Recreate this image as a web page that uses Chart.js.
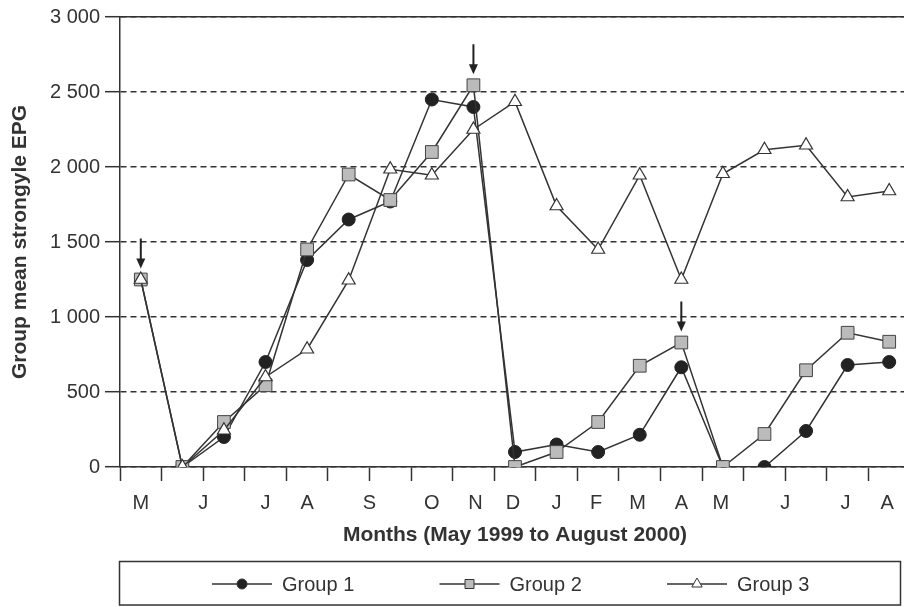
<!DOCTYPE html>
<html>
<head>
<meta charset="utf-8">
<title>Group mean strongyle EPG</title>
<script src="https://cdn.jsdelivr.net/npm/chart.js@4.4.0/dist/chart.umd.min.js"></script>
<style>
html, body { margin: 0; padding: 0; background: #fff; overflow: hidden; }
#wrap { width: 920px; height: 607px; }
</style>
</head>
<body>
<div id="wrap"><canvas id="epgChart" width="920" height="607"></canvas></div>
<script>
// 19 sampling occasions, May 1999 to August 2000
const monthLabels = ['M', 'J', 'J', 'A', 'S', 'O', 'N', 'D', 'J', 'F', 'M', 'A', 'M', 'J', 'J', 'A'];
const monthLabelPos = [0.5, 2, 3.5, 4.5, 6, 7.5, 8.55, 9.45, 10.5, 11.45, 12.45, 13.5, 14.45, 16, 17.45, 18.45];
const group1 = [null, 0, 200, 700, 1380, 1650, 1770, 2450, 2400, 100, 150, 100, 215, 665, 0, 0, 240, 680, 700];
const group2 = [1250, 0, 300, 545, 1450, 1950, 1780, 2100, 2545, 0, 100, 300, 675, 830, 0, 220, 645, 895, 835];
const group3 = [1250, 0, 245, 600, 785, 1245, 1985, 1945, 2250, 2435, 1740, 1450, 1945, 1250, 1955, 2115, 2145, 1800, 1840];
const treatmentAt = [0, 8, 13]; // arrows above group 2
const yTicks = [0, 500, 1000, 1500, 2000, 2500, 3000];

const ink = '#333';
const textCol = '#333';
Chart.defaults.font.family = "'Liberation Sans', Arial, Helvetica, sans-serif";
Chart.defaults.color = textCol;

const toPoints = arr => arr.map((v, i) => ({ x: i + 0.5, y: v }));

function fmtThousands(v) {
    if (v < 1000) return String(v);
    return Math.floor(v / 1000) + ' ' + String(v % 1000).padStart(3, '0');
}

function drawMarker(ctx, style, x, y, r, fill) {
    ctx.beginPath();
    if (style === 'circle') {
        ctx.arc(x, y, r, 0, Math.PI * 2);
    } else if (style === 'rect') {
        ctx.rect(x - r, y - r, 2 * r, 2 * r);
    } else {
        ctx.moveTo(x, y - r);
        ctx.lineTo(x + r * 0.866, y + r * 0.5);
        ctx.lineTo(x - r * 0.866, y + r * 0.5);
        ctx.closePath();
    }
    ctx.fillStyle = fill;
    ctx.fill();
    ctx.stroke();
}

const overlayPlugin = {
    id: 'overlay',
    afterDatasetsDraw(chart) {
        const ctx = chart.ctx;
        const xs = chart.scales.x, ys = chart.scales.y;
        ctx.save();
        ctx.strokeStyle = '#222';
        ctx.fillStyle = '#222';
        ctx.lineWidth = 2;
        treatmentAt.forEach(i => {
            const px = xs.getPixelForValue(i + 0.5);
            const tip = ys.getPixelForValue(group2[i]) - 11;
            ctx.beginPath();
            ctx.moveTo(px, tip - 30);
            ctx.lineTo(px, tip - 8);
            ctx.stroke();
            ctx.beginPath();
            ctx.moveTo(px - 4.5, tip - 10);
            ctx.lineTo(px + 4.5, tip - 10);
            ctx.lineTo(px, tip);
            ctx.closePath();
            ctx.fill();
        });
        ctx.restore();
    },
    afterDraw(chart) {
        const ctx = chart.ctx;
        ctx.save();
        ctx.strokeStyle = ink;
        ctx.lineWidth = 1.5;
        ctx.strokeRect(119.5, 561.5, 781, 43.5);
        const ly = 584;
        const markers = [
            { style: 'circle', r: 5, fill: '#222' },
            { style: 'rect', r: 4.5, fill: '#bbb' },
            { style: 'triangle', r: 6, fill: '#fff' }
        ];
        chart.data.datasets.forEach((ds, k) => {
            const x0 = 212 + k * 227.5;
            ctx.strokeStyle = ink;
            ctx.lineWidth = 1.5;
            ctx.beginPath();
            ctx.moveTo(x0, ly);
            ctx.lineTo(x0 + 60, ly);
            ctx.stroke();
            ctx.lineWidth = 1;
            drawMarker(ctx, markers[k].style, x0 + 30, ly, markers[k].r, markers[k].fill);
            ctx.fillStyle = textCol;
            ctx.font = "20px 'Liberation Sans', Arial, sans-serif";
            ctx.textBaseline = 'middle';
            ctx.textAlign = 'left';
            ctx.fillText(ds.label, x0 + 70, ly + 1);
        });
        ctx.restore();
    }
};

new Chart(document.getElementById('epgChart'), {
    type: 'line',
    data: {
        datasets: [
            {
                label: 'Group 1', data: toPoints(group1), order: 2,
                borderColor: ink, borderWidth: 1.5,
                pointStyle: 'circle', pointRadius: 6.5,
                pointBackgroundColor: '#222', pointBorderColor: '#222', pointBorderWidth: 1
            },
            {
                label: 'Group 2', data: toPoints(group2), order: 1,
                borderColor: ink, borderWidth: 1.5,
                pointStyle: 'rect', pointRadius: 9,
                pointBackgroundColor: '#bbb', pointBorderColor: '#444', pointBorderWidth: 1
            },
            {
                label: 'Group 3', data: toPoints(group3), order: 0,
                borderColor: ink, borderWidth: 1.5,
                pointStyle: 'triangle', pointRadius: 7.5,
                pointBackgroundColor: '#fff', pointBorderColor: '#333', pointBorderWidth: 1.2
            }
        ]
    },
    options: {
        responsive: false,
        animation: false,
        devicePixelRatio: 1,
        layout: { padding: { top: 16, right: 8, bottom: 0, left: 0 } },
        plugins: { legend: { display: false }, tooltip: { enabled: false } },
        elements: { line: { tension: 0 } },
        scales: {
            x: {
                type: 'linear', position: 'bottom', min: 0, max: 19,
                afterBuildTicks: s => { s.ticks = group2.concat([0]).map((_, i) => ({ value: i })); },
                afterFit: s => { s.height = 14; },
                ticks: { display: false },
                grid: { drawOnChartArea: false, drawTicks: true, tickLength: 14, tickColor: ink, tickWidth: 1.5 },
                border: { display: true, color: ink, width: 1.5 }
            },
            xl: {
                type: 'linear', position: 'bottom', min: 0, max: 19,
                afterBuildTicks: s => { s.ticks = monthLabelPos.map(v => ({ value: v })); },
                afterFit: s => { s.height = 126; },
                ticks: {
                    autoSkip: false, maxRotation: 0, padding: 10,
                    font: { size: 20 }, color: textCol,
                    callback: (v, i) => monthLabels[i]
                },
                grid: { display: false, drawTicks: false },
                border: { display: false },
                title: {
                    display: true, text: 'Months (May 1999 to August 2000)',
                    font: { size: 21, weight: 'bold' }, color: textCol,
                    padding: { top: 0, bottom: 59 }
                }
            },
            xt: {
                type: 'linear', position: 'top', min: 0, max: 19,
                afterFit: s => { s.height = 0; },
                ticks: { display: false },
                grid: { display: false, drawTicks: false },
                border: { display: true, color: ink, width: 1.5 }
            },
            y: {
                type: 'linear', min: 0, max: 3000,
                afterBuildTicks: s => { s.ticks = yTicks.map(v => ({ value: v })); },
                afterFit: s => { s.width = 120; },
                ticks: { padding: 5, font: { size: 20 }, color: textCol, callback: v => fmtThousands(v) },
                grid: { color: ink, lineWidth: 1.4, tickLength: 15, tickColor: ink, tickWidth: 1.5, tickBorderDash: [] },
                border: { display: true, color: ink, width: 1.5, dash: [6, 4] },
                title: {
                    display: true, text: 'Group mean strongyle EPG',
                    font: { size: 21, weight: 'bold' }, color: textCol,
                    padding: { top: 8, bottom: 0 }
                }
            }
        }
    },
    plugins: [overlayPlugin]
});
</script>
</body>
</html>
